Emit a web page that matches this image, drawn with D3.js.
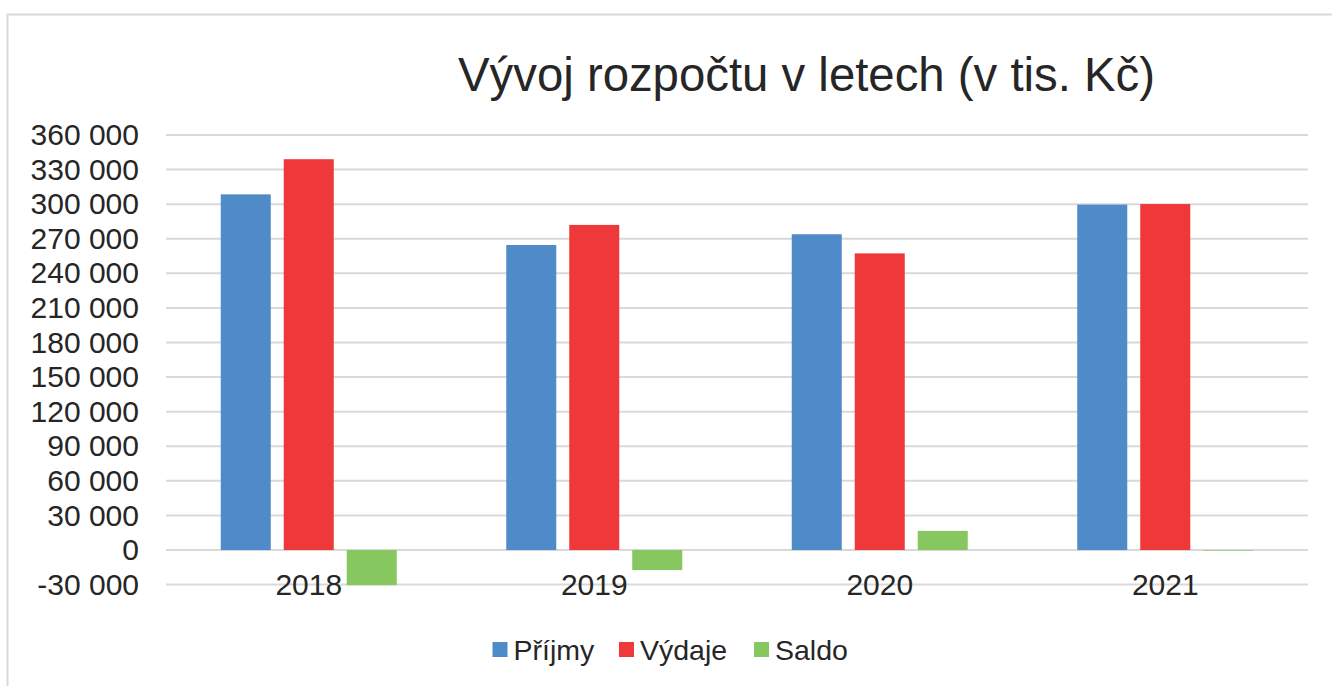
<!DOCTYPE html>
<html>
<head>
<meta charset="utf-8">
<script src="https://cdn.jsdelivr.net/npm/d3@7"></script>
<style>
  body { margin: 0; background: #fff; }
  svg { display: block; font-family: "Liberation Sans", Arial, sans-serif; }
</style>
</head>
<body>
<svg id="chart" width="1332" height="686"></svg>
<script>
// data (v tis. Kč)
const years = ["2018", "2019", "2020", "2021"];
const seriesNames = ["Příjmy", "Výdaje", "Saldo"];
const prijmy = [308500, 264600, 273900, 299600];
const vydaje = [339000, 282000, 257300, 300100];
const saldo = [-30500, -17400, 16600, -500];
const yTicks = [-30000, 0, 30000, 60000, 90000, 120000, 150000, 180000, 210000, 240000, 270000, 300000, 330000, 360000];
const colors = ["#4f8ac9", "#ee3839", "#87c760"];

const WIDTH = 1332, HEIGHT = 686;
const plot = { left: 166, right: 1308, top: 135, bottom: 584.6 };

const svg = d3.select("#chart");

// chart frame (only top and left edges visible in the picture)
svg.append("rect")
  .attr("x", 7.5).attr("y", 14.5)
  .attr("width", WIDTH + 20).attr("height", HEIGHT + 20)
  .attr("fill", "none")
  .attr("stroke", "#d9d9d9")
  .attr("stroke-width", 2);

const table = years.map((y, i) => ({
  year: y,
  values: [prijmy[i], vydaje[i], saldo[i]],
}));

// each category is 285.5px wide, the bar group inside it 176px
const x0 = d3.scaleBand()
  .domain(years)
  .range([plot.left, plot.right])
  .paddingInner(0)
  .paddingOuter(0);

const groupW = 176;
const xGroup = (y) => x0(y) + (x0.bandwidth() - groupW) / 2;

const x1 = d3.scaleBand()
  .domain(d3.range(seriesNames.length))
  .range([0, groupW])
  .paddingInner(0.206)
  .paddingOuter(0);

const yScale = d3.scaleLinear()
  .domain([-30000, 360000])
  .range([plot.bottom, plot.top]);

// gridlines
svg.append("g")
  .attr("class", "grid")
  .selectAll("line")
  .data(yTicks)
  .join("line")
  .attr("x1", plot.left)
  .attr("x2", plot.right)
  .attr("y1", (d) => yScale(d))
  .attr("y2", (d) => yScale(d))
  .attr("stroke", "#d9d9d9")
  .attr("stroke-width", 2);

// y axis labels
const fmt = (v) => d3.format(",")(v).replace(/,/g, " ").replace("−", "-");
const yAxis = d3.axisLeft(yScale)
  .tickValues(yTicks)
  .tickSize(0)
  .tickPadding(0)
  .tickFormat(fmt);

svg.append("g")
  .attr("transform", "translate(139,0)")
  .call(yAxis)
  .call((g) => g.select(".domain").remove())
  .selectAll("text")
  .attr("font-size", 30)
  .attr("font-family", "Liberation Sans, Arial, sans-serif")
  .attr("fill", "#262626");

// bars
const groups = svg.append("g")
  .selectAll("g")
  .data(table)
  .join("g")
  .attr("transform", (d) => `translate(${xGroup(d.year)},0)`);

groups.selectAll("rect")
  .data((d) => d.values.map((v, i) => ({ v, i })))
  .join("rect")
  .attr("x", (d) => x1(d.i))
  .attr("width", x1.bandwidth())
  .attr("y", (d) => yScale(Math.max(0, d.v)))
  .attr("height", (d) => Math.abs(yScale(d.v) - yScale(0)))
  .attr("fill", (d) => colors[d.i]);

// category labels
svg.append("g")
  .selectAll("text")
  .data(years)
  .join("text")
  .attr("x", (d) => xGroup(d) + groupW / 2)
  .attr("y", 595)
  .attr("text-anchor", "middle")
  .attr("font-size", 30)
  .attr("fill", "#262626")
  .text((d) => d);

// title
svg.append("text")
  .attr("x", 458)
  .attr("y", 91)
  .attr("font-size", 48)
  .attr("fill", "#262626")
  .attr("textLength", 697)
  .attr("lengthAdjust", "spacingAndGlyphs")
  .text("Vývoj rozpočtu v letech (v tis. Kč)");

// legend
const legendX = [492.5, 619, 754];
const legend = svg.append("g")
  .selectAll("g")
  .data(seriesNames)
  .join("g")
  .attr("transform", (d, i) => `translate(${legendX[i]},642)`);

legend.append("rect")
  .attr("width", 15)
  .attr("height", 15)
  .attr("fill", (d, i) => colors[i]);

legend.append("text")
  .attr("x", 21)
  .attr("y", 17.5)
  .attr("font-size", 28.5)
  .attr("fill", "#262626")
  .text((d) => d);
</script>
</body>
</html>
